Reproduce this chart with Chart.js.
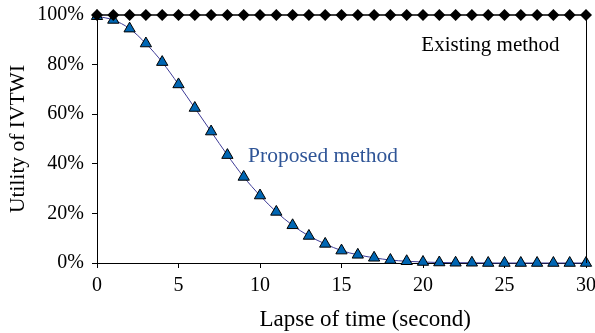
<!DOCTYPE html>
<html>
<head>
<meta charset="utf-8">
<script src="https://cdn.jsdelivr.net/npm/chart.js@4.4.1/dist/chart.umd.min.js"></script>
<style>
html,body{margin:0;padding:0;background:#fff;}
#wrap{width:595px;height:333px;position:relative;}
</style>
</head>
<body>
<div id="wrap"><canvas id="c" width="595" height="333"></canvas></div>
<script>
const times = [0,1,2,3,4,5,6,7,8,9,10,11,12,13,14,15,16,17,18,19,20,21,22,23,24,25,26,27,28,29,30];
const existing = [1,1,1,1,1,1,1,1,1,1,1,1,1,1,1,1,1,1,1,1,1,1,1,1,1,1,1,1,1,1,1];
const proposed = [0.995,0.98,0.945,0.885,0.81,0.72,0.625,0.53,0.435,0.347,0.272,0.206,0.152,0.109,0.077,0.05,0.033,0.021,0.012,0.007,0.004,0.002,0.001,0.001,0,0,0,0,0,0,0];
const xTicks = [0,5,10,15,20,25,30];
const yTicks = [0,0.2,0.4,0.6,0.8,1];
const seriesNames = ["Existing method","Proposed method"];
const xTitle = "Lapse of time (second)";
const yTitle = "Utility of IVTWI";

const FONT = "'Liberation Serif','Times New Roman',serif";

const annot = {
  id: 'annot',
  afterDraw(chart) {
    const ctx = chart.ctx, a = chart.chartArea;
    const xs = chart.scales.x, ys = chart.scales.y;
    ctx.save();
    ctx.strokeStyle = '#000'; ctx.lineWidth = 1;
    ctx.beginPath();
    ctx.moveTo(Math.round(a.right)+0.5, a.top);
    ctx.lineTo(Math.round(a.right)+0.5, a.bottom);
    ctx.stroke();
    ctx.textBaseline = 'middle';
    ctx.textAlign = 'left';
    ctx.font = '21px ' + FONT;
    ctx.fillStyle = '#000';
    ctx.fillText(seriesNames[0], xs.getPixelForValue(19.9), ys.getPixelForValue(0.878));
    ctx.font = '21.5px ' + FONT;
    ctx.fillStyle = '#2F5597';
    ctx.fillText(seriesNames[1], xs.getPixelForValue(9.27), ys.getPixelForValue(0.43));
    ctx.font = '23px ' + FONT;
    ctx.fillStyle = '#000';
    ctx.textAlign = 'center';
    ctx.fillText(xTitle, xs.getPixelForValue(16.45), 320);
    ctx.restore();
  }
};

new Chart(document.getElementById('c'), {
  type: 'line',
  data: {
    datasets: [
      {
        label: seriesNames[0],
        data: times.map((t,i)=>({x:t,y:existing[i]})),
        borderColor: '#000',
        borderWidth: 1.5,
        backgroundColor: '#000',
        pointStyle: 'rectRot',
        pointRadius: 6,
        pointBorderWidth: 0,
        pointBackgroundColor: '#000',
        tension: 0,
        clip: false
      },
      {
        label: seriesNames[1],
        data: times.map((t,i)=>({x:t,y:proposed[i]})),
        borderColor: '#3d3a96',
        borderWidth: 1,
        pointStyle: 'triangle',
        pointRadius: 6.5,
        pointBackgroundColor: '#0066B3',
        pointBorderColor: '#000',
        pointBorderWidth: 1,
        cubicInterpolationMode: 'monotone',
        clip: false
      }
    ]
  },
  options: {
    responsive: false,
    animation: false,
    events: [],
    layout: { padding: { left: 0, right: 9, top: 15, bottom: 0 } },
    plugins: { legend: { display: false }, tooltip: { enabled: false } },
    scales: {
      x: {
        type: 'linear',
        min: 0, max: 30,
        afterBuildTicks(s){ s.ticks = xTicks.map(v=>({value:v})); },
        afterFit(s){ s.height = 70; s.paddingLeft = 0; s.paddingRight = 0; },
        ticks: { color: '#000', font: { family: FONT, size: 20 }, padding: 6, maxRotation: 0, autoSkip: false },
        grid: { display: true, drawOnChartArea: false, drawTicks: true, tickLength: 5, color: '#000', lineWidth: 1 },
        border: { display: true, color: '#000', width: 1 },
        title: { display: false }
      },
      y: {
        min: 0, max: 1,
        afterBuildTicks(s){ s.ticks = yTicks.map(v=>({value:v})); },
        afterFit(s){ s.width = 97; s.paddingTop = 0; s.paddingBottom = 0; },
        ticks: { color: '#000', font: { family: FONT, size: 20 }, padding: 8,
          callback: v => Math.round(v*100) + '%' },
        grid: { display: true, drawOnChartArea: false, drawTicks: true, tickLength: 5, color: '#000', lineWidth: 1 },
        border: { display: true, color: '#000', width: 1 },
        title: { display: true, text: yTitle, color: '#000', font: { family: FONT, size: 21.5 }, padding: { top: 5, bottom: 0 } }
      }
    }
  },
  plugins: [annot]
});
</script>
</body>
</html>
